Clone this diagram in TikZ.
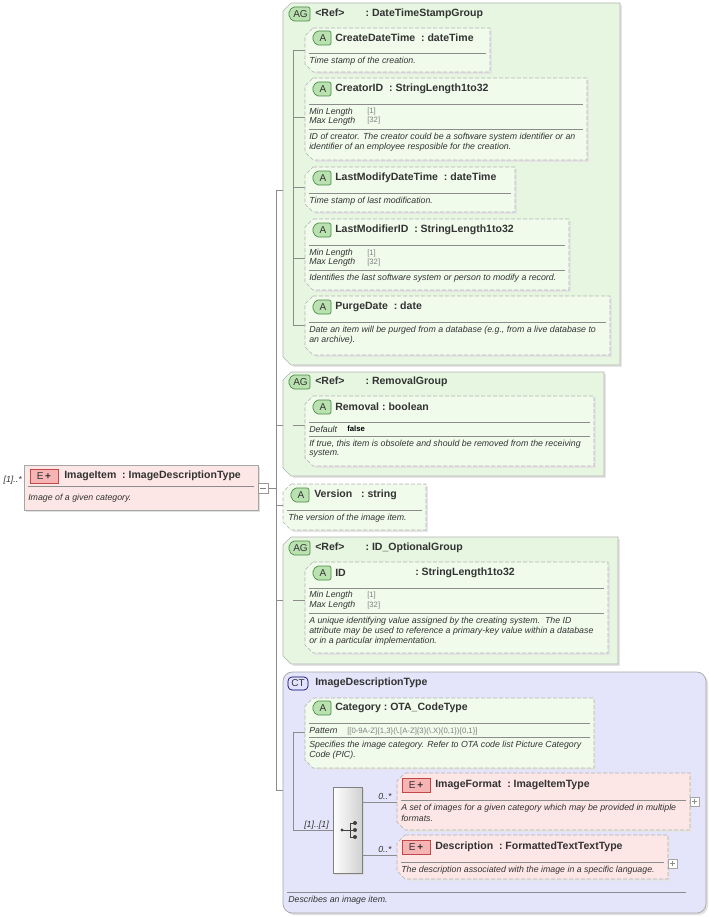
\documentclass[tikz,border=0pt]{standalone}
\usepackage{fontspec}
\setmainfont{Liberation Sans}
\begin{document}
\begin{tikzpicture}[x=0.75pt,y=-0.75pt,
 title/.style={anchor=west,font=\fontsize{7.9}{8}\selectfont\bfseries,text=txt,inner sep=0},
 desc/.style={anchor=west,font=\fontsize{6.6}{7}\selectfont\itshape,text=txt,inner sep=0},
 val/.style={anchor=west,font=\fontsize{5.8}{6}\selectfont,text=black!50,inner sep=0},
 conn/.style={draw=black!45,line width=0.5pt},
 sep/.style={draw=black!45,line width=0.4pt},
 agbox/.style={draw=black!30,fill=agf,line width=0.5pt},
 abox/.style={draw=black!30,dashed,dash pattern=on 3pt off 1.5pt,fill=af,line width=0.5pt},
 ebox/.style={draw=black!30,dashed,dash pattern=on 3pt off 1.5pt,fill=ef,line width=0.5pt},
 badge/.style={font=\fontsize{7.5}{8}\selectfont,inner sep=0,text=txt}]
\definecolor{txt}{HTML}{333333}
\definecolor{agf}{HTML}{E6F6E1}
\definecolor{af}{HTML}{F0FBEC}
\definecolor{ef}{HTML}{FDE6E6}
\definecolor{ctf}{HTML}{E4E4FA}
\definecolor{gb}{HTML}{B9E2B0}
\definecolor{gd}{HTML}{4A8A44}
\definecolor{pb}{HTML}{F6B4B4}
\definecolor{pd}{HTML}{C04848}
\useasboundingbox (0,0) rectangle (709,917);
% macros
\newcommand\bev[6]{\fill[black!10] ({#2+10},{#3+2})--({#4+2},{#3+2})--({#4+2},{#5+2})--({#2+10},{#5+2})--cycle;
 \path[#6] ({#2+8},#3)--(#4,#3)--(#4,#5)--({#2+8},#5)--(#2,{#5-8})--(#2,{#3+8})--cycle;
 \coordinate (#1) at (#2,{(#3+#5)/2});}
\newcommand\Ab[3]{\path[draw=gd,fill=gb,line width=0.5pt,rounded corners=1.5pt] ({#1+4},{#2-7})--({#1+19},{#2-7})--({#1+19},{#2+7})--({#1+4},{#2+7})--(#1,#2)--cycle;
 \node[badge] at ({#1+11},#2) {#3};}
\newcommand\AGb[2]{\path[draw=gd,fill=gb,line width=0.5pt,rounded corners=1.5pt] ({#1+4},{#2-7})--({#1+22},{#2-7})--({#1+22},{#2+7})--({#1+4},{#2+7})--(#1,#2)--cycle;
 \node[badge] at ({#1+12.5},#2) {AG};}
\newcommand\Eb[2]{\path[draw=pd,fill=pb,line width=0.5pt] (#1,{#2-7}) rectangle ({#1+28},{#2+7});
 \node[badge,font=\fontsize{7.5}{8}\selectfont] at ({#1+14},#2) {E\,\textbf{+}};}
\newcommand\hl[3]{\draw[sep] (#1,#3)--(#2,#3);}
% ImageItem
\fill[black!12] (26,467) rectangle (260,512);
\path[draw=black!35,fill=ef] (24,465) rectangle (258,510);
\node (root) at (141,487) {};
\node[desc,anchor=east] at (22,480) {[1]..*};
\Eb{30}{476}
\node[title] at (64,476) {ImageItem\ \ :\ ImageDescriptionType};
\hl{28}{254}{486}
\node[desc] at (28,498) {Image of a given category.};
\draw[draw=black!40,fill=white] (258,483) rectangle (268,493); \draw[black!50] (260,488)--(266,488);
\coordinate (sp) at (276,488);
\draw[conn] (268,488)--(sp);
\draw[conn] (276,190)--(276,790);
% AG1
\bev{ag1}{283}{3}{620}{365}{agbox}
\AGb{288}{14}
\node[title] at (315,14) {<Ref>\qquad:\ DateTimeStampGroup};
\draw[conn] (276,190)--(283,190);
\draw[conn] (293,50)--(293,325);
\foreach \y in {50,117,187,258,325} \draw[conn] (293,\y)--(305,\y);
\bev{a1}{305}{28}{490}{72}{abox}
\Ab{312}{38}{A}\node[title] at (335,38) {CreateDateTime\ \ :\ dateTime};
\hl{309}{486}{53}\node[desc] at (309,61) {Time stamp of the creation.};
\bev{a2}{305}{78}{587}{160}{abox}
\Ab{312}{89}{A}\node[title] at (335,89) {CreatorID\ \ :\ StringLength1to32};
\hl{309}{583}{104}
\node[desc] at (309,112) {Min Length};\node[val] at (367,112) {[1]};
\node[desc] at (309,121) {Max Length};\node[val] at (367,121) {[32]};
\hl{309}{583}{129}
\node[desc] at (309,137) {ID of creator. The creator could be a software system identifier or an};
\node[desc] at (309,147) {identifier of an employee resposible for the creation.};
\bev{a3}{305}{167}{515}{212}{abox}
\Ab{312}{178}{A}\node[title] at (335,178) {LastModifyDateTime\ \ :\ dateTime};
\hl{309}{511}{193}\node[desc] at (309,201) {Time stamp of last modification.};
\bev{a4}{305}{219}{569}{290}{abox}
\Ab{312}{230}{A}\node[title] at (335,230) {LastModifierID\ \ :\ StringLength1to32};
\hl{309}{565}{245}
\node[desc] at (309,253) {Min Length};\node[val] at (367,253) {[1]};
\node[desc] at (309,262) {Max Length};\node[val] at (367,262) {[32]};
\hl{309}{565}{270}
\node[desc] at (309,278) {Identifies the last software system or person to modify a record.};
\bev{a5}{305}{296}{610}{355}{abox}
\Ab{312}{307}{A}\node[title] at (335,307) {PurgeDate\ \ :\ date};
\hl{309}{606}{322}
\node[desc] at (309,330) {Date an item will be purged from a database (e.g., from a live database to};
\node[desc] at (309,340) {an archive).};
% AG2
\bev{ag2}{283}{372}{604}{476}{agbox}
\AGb{288}{382}
\node[title] at (315,382) {<Ref>\qquad:\ RemovalGroup};
\draw[conn] (276,425)--(283,425);
\draw[conn] (293,425)--(305,425);
\bev{a6}{305}{396}{594}{466}{abox}
\Ab{312}{407}{A}\node[title] at (335,407) {Removal\ :\ boolean};
\hl{309}{590}{422}
\node[desc] at (309,429) {Default};\node[val,font=\fontsize{5.8}{6}\selectfont\bfseries,text=black] at (347,429) {false};
\hl{309}{590}{436}
\node[desc] at (309,444) {If true, this item is obsolete and should be removed from the receiving};
\node[desc] at (309,454) {system.};
% Version
\bev{ver}{283}{484}{426}{530}{abox}
\draw[conn] (276,505)--(283,505);
\Ab{290}{495}{A}\node[title] at (314,495) {Version\ \ \ :\ string};
\hl{287}{422}{510}\node[desc] at (288,518) {The version of the image item.};
% AG3
\bev{ag3}{283}{537}{618}{664}{agbox}
\AGb{288}{548}
\node[title] at (315,548) {<Ref>\qquad:\ ID\_OptionalGroup};
\draw[conn] (276,600)--(283,600);
\draw[conn] (293,600)--(305,600);
\bev{a7}{305}{562}{608}{653}{abox}
\Ab{312}{573}{A}\node[title] at (335,573) {ID};\node[title] at (415,573) {:\ StringLength1to32};
\hl{309}{604}{588}
\node[desc] at (309,595) {Min Length};\node[val] at (367,595) {[1]};
\node[desc] at (309,605) {Max Length};\node[val] at (367,605) {[32]};
\hl{309}{604}{613}
\node[desc] at (309,621) {A unique identifying value assigned by the creating system.\ \ The ID};
\node[desc] at (309,631) {attribute may be used to reference a primary-key value within a database};
\node[desc] at (309,641) {or in a particular implementation.};
% CT
\fill[black!12,rounded corners=7] (285,674) rectangle (708,915);
\path[draw=black!35,fill=ctf,rounded corners=7,line width=0.5pt] (283,672) rectangle (706,913);
\coordinate (ct) at (283,790);
\draw[conn] (276,790)--(ct);
\path[draw=black!60!blue,fill=ctf!70!blue!30,rounded corners=3,line width=0.5pt] (288,677) rectangle (308,690);
\node[badge] at (298,683.5) {CT};
\node[title] at (315,683) {ImageDescriptionType};
\draw[conn] (293,732)--(293,830);
\draw[conn] (293,732)--(305,732);
\bev{cat}{305}{698}{594}{768}{abox}
\Ab{312}{708}{A}\node[title] at (335,708) {Category\ :\ OTA\_CodeType};
\hl{309}{590}{723}
\node[desc] at (309,731) {Pattern};\node[val] at (347,731) {[[0-9A-Z]\{1,3\}(\textbackslash.[A-Z]\{3\}(\textbackslash.X)\{0,1\})\{0,1\}]};
\hl{309}{590}{737}
\node[desc] at (309,745) {Specifies the image category. Refer to OTA code list Picture Category};
\node[desc] at (309,755) {Code (PIC).};
% sequence
\fill[black!15] (335,789) rectangle (364,875);
\shade[left color=white,right color=black!18,draw=black!50] (333,787) rectangle (362,873);
\node (seq) at (347.5,830) {};
\draw[conn] (293,830)--(333,830);
\node[desc] at (304,825) {[1]..[1]};
\draw[black!75,line width=0.7pt] (342,830)--(350,830) (350,823)--(350,837) (350,823)--(355,823) (350,830)--(355,830) (350,837)--(355,837);
\fill[black!75] (342,830) circle (1.6) (355,823) circle (2) (355,830) circle (2) (355,837) circle (2);
\draw[conn] (362,802)--(397,802);
\draw[conn] (362,855)--(397,855);
\node[desc] at (378,796) {0..*};
\node[desc] at (378,849) {0..*};
\bev{imf}{397}{773}{690}{830}{ebox}
\Eb{402}{785}\node[title] at (435,785) {ImageFormat\ \ :\ ImageItemType};
\hl{401}{686}{800}
\node[desc] at (401,808) {A set of images for a given category which may be provided in multiple};
\node[desc] at (401,818) {formats.};
\draw[draw=black!35,fill=white] (690,797) rectangle (699,806); \draw[black!45] (692,801.5)--(697,801.5) (694.5,799)--(694.5,804);
\bev{dsc}{397}{835}{668}{879}{ebox}
\Eb{402}{847}\node[title] at (435,847) {Description\ \ :\ FormattedTextTextType};
\hl{401}{664}{862}
\node[desc] at (401,870) {The description associated with the image in a specific language.};
\draw[draw=black!35,fill=white] (668,859) rectangle (677,868); \draw[black!45] (670,863.5)--(675,863.5) (672.5,861)--(672.5,866);
\hl{287}{686}{892}
\node[desc] at (288,900) {Describes an image item.};
\end{tikzpicture}
\end{document}
